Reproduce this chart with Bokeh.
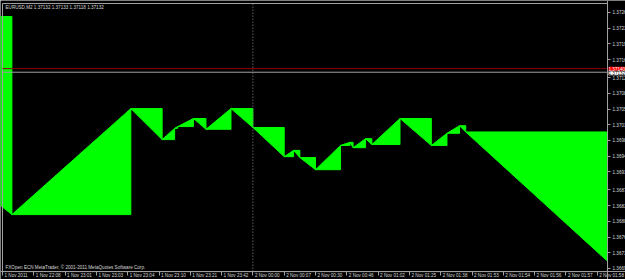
from bokeh.plotting import figure
from bokeh.models import FixedTicker, PrintfTickFormatter, Label, Range1d, ColumnDataSource
from bokeh.embed import file_html
from bokeh.resources import INLINE
from bokeh.core.properties import value

# ---- data (bar index, price) ----
bars = [-76, 3, 41, 51, 55, 56, 61, 65, 73, 80, 90, 93, 95, 100, 108, 111, 112,
        116, 118, 127, 137, 142, 146, 148, 193]
prices = [1.37256, 1.36815, 1.37051, 1.36982, 1.37007, 1.37011, 1.37029, 1.37005,
          1.37051, 1.37009, 1.36944, 1.36958, 1.36942, 1.36915, 1.36969, 1.36976,
          1.36964, 1.36984, 1.36971, 1.37029, 1.36969, 1.36996, 1.37013, 1.36999,
          1.36713]

time_ticks = list(range(0, 200, 10))
time_labels = ["1 Nov 2011", "1 Nov 22:08", "1 Nov 23:01", "1 Nov 23:03", "1 Nov 23:04",
               "1 Nov 23:10", "1 Nov 23:21", "1 Nov 23:42", "2 Nov 00:00", "2 Nov 00:07",
               "2 Nov 00:30", "2 Nov 00:46", "2 Nov 01:02", "2 Nov 01:25", "2 Nov 01:38",
               "2 Nov 01:53", "2 Nov 01:54", "2 Nov 01:56", "2 Nov 01:57", "2 Nov 01:58"]
price_ticks = [1.37265, 1.37230, 1.37195, 1.37160, 1.37120, 1.37085, 1.37050, 1.37015,
               1.36980, 1.36945, 1.36910, 1.36870, 1.36835, 1.36800, 1.36765, 1.36730,
               1.36695]
ask_price = 1.37140
bid_price = 1.37132
separator_bar = 80
title_text = "EURUSD,M2  1.37132 1.37133 1.37118 1.37132"
copyright_text = "FXOpen ECN MetaTrader, \u00a9 2001-2011 MetaQuotes Software Corp."

# chart window limits (data units)
x_lo, x_hi = 0, 193.3
y_lo, y_hi = 1.36688, 1.37285

FONT = value("Liberation Sans")
FS = "4.6px"
GRAY = "#a0a0a0"
TXT = "#d8d8d8"

p = figure(width=625, height=279, output_backend="svg", toolbar_location=None,
           x_range=Range1d(-0.64, 199.04), y_range=Range1d(1.366705, 1.372917),
           y_axis_location="right", x_axis_location="below",
           min_border=0, min_border_left=0, min_border_right=0,
           min_border_top=0, min_border_bottom=0)
p.background_fill_color = "black"
p.border_fill_color = "black"
p.outline_line_color = None
p.xgrid.visible = False
p.ygrid.visible = False

# triangles: (x_i, y_i) -> (x_{i+1}, y_i) -> (x_{i+1}, y_{i+1})
xs, ys = [], []
for i in range(len(bars) - 1):
    xs.append([bars[i], bars[i + 1], bars[i + 1]])
    ys.append([prices[i], prices[i], prices[i + 1]])
p.patches(xs, ys, fill_color="#00ff00", line_color="#00ff00", line_width=1)

# chart window frame
p.quad(left=[x_lo], right=[x_hi], bottom=[y_lo], top=[y_hi], fill_color=None,
       line_color=GRAY, line_width=1)

# period separator
p.segment(x0=[separator_bar], x1=[separator_bar], y0=[y_lo], y1=[y_hi],
          line_color="#909090", line_dash="1 2", line_width=1)

# ask / bid lines
p.segment(x0=[x_lo], x1=[x_hi], y0=[ask_price], y1=[ask_price], line_color="#8b0000", line_width=1)
p.segment(x0=[x_lo], x1=[x_hi], y0=[bid_price], y1=[bid_price], line_color="#a0a0a0", line_width=1)

# axes
yax = p.yaxis[0]
yax.fixed_location = x_hi
yax.ticker = FixedTicker(ticks=price_ticks)
yax.formatter = PrintfTickFormatter(format="%.5f")
yax.major_tick_out = 3
yax.major_tick_in = 0
yax.minor_tick_line_color = None
yax.axis_line_color = GRAY
yax.major_tick_line_color = GRAY
yax.major_label_text_color = TXT
yax.major_label_text_font = "Liberation Sans"
yax.major_label_text_font_size = FS
yax.major_label_standoff = 2

xax = p.xaxis[0]
xax.fixed_location = y_lo
xax.ticker = FixedTicker(ticks=time_ticks)
xax.major_tick_out = 4
xax.major_tick_in = 0
xax.minor_tick_line_color = None
xax.axis_line_color = GRAY
xax.major_tick_line_color = GRAY
xax.major_label_text_color = None

src = ColumnDataSource(dict(x=time_ticks, y=[y_lo] * len(time_ticks), t=time_labels))
p.text(x="x", y="y", text="t", source=src, x_offset=2, y_offset=1.5,
       text_align="left", text_baseline="top", text_color=TXT,
       text_font=FONT, text_font_size=FS)

# price labels
p.add_layout(Label(x=x_hi, y=ask_price, text="1.37140", x_offset=1, text_baseline="middle",
                   text_color="white", background_fill_color="#ff0000",
                   text_font="Liberation Sans", text_font_size=FS))
p.add_layout(Label(x=x_hi, y=bid_price, text="1.37132", x_offset=1, y_offset=-1, text_baseline="middle",
                   text_color="black", background_fill_color="white",
                   text_font="Liberation Sans", text_font_size=FS))

# title and copyright
p.text(x=[x_lo], y=[y_hi], text=[title_text], x_offset=3, y_offset=1.5,
       text_align="left", text_baseline="top", text_color=TXT,
       text_font=FONT, text_font_size=FS)
p.text(x=[x_lo], y=[y_lo], text=[copyright_text], x_offset=3, y_offset=-2,
       text_align="left", text_baseline="bottom", text_color=TXT,
       text_font=FONT, text_font_size=FS)

open("out.html", "w").write(file_html(p, INLINE))
